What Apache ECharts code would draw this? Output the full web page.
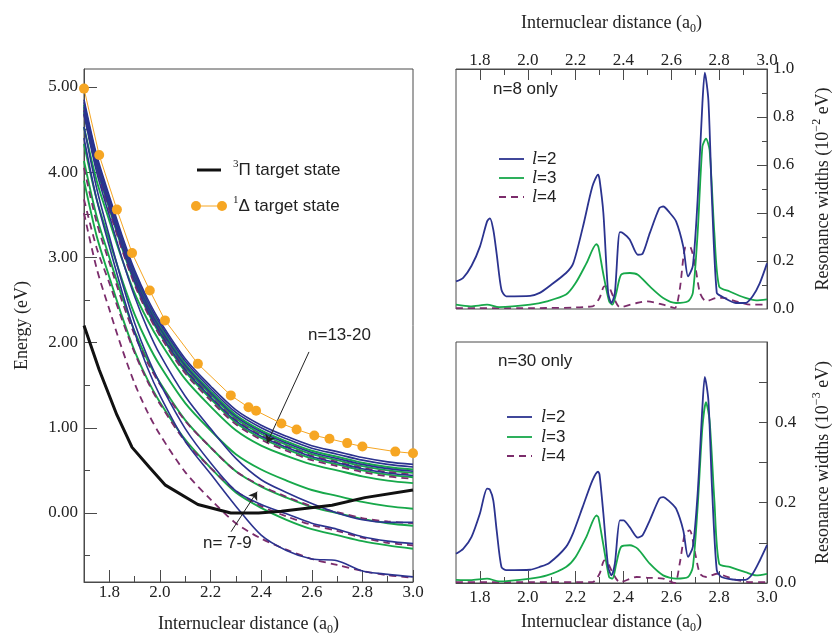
<!DOCTYPE html>
<html>
<head>
<meta charset="utf-8">
<script src="https://cdn.jsdelivr.net/npm/echarts@6/dist/echarts.min.js"></script>
<style>
html, body { margin: 0; background: #fff; }
#main { width: 834px; height: 633px; }
</style>
</head>
<body>
<div id="main"></div>
<script>
// ---- left panel: potential curves (eV) ----
var xs = [1.7, 1.75, 1.8, 1.85, 1.9, 1.95, 2.0, 2.1, 2.2, 2.3, 2.4, 2.5, 2.6, 2.7, 2.8, 2.9, 3.0];

// n=13-20 bundle
var hiBlue1 = [4.85, 4.20, 3.72, 3.26, 2.85, 2.52, 2.25, 1.81, 1.49, 1.21, 1.03, 0.90, 0.79, 0.72, 0.65, 0.60, 0.57];
var hiBlue2 = [4.82, 4.17, 3.69, 3.23, 2.82, 2.49, 2.22, 1.78, 1.46, 1.18, 1.00, 0.87, 0.76, 0.69, 0.62, 0.57, 0.54];
var hiBlue3 = [4.77, 4.12, 3.64, 3.18, 2.77, 2.44, 2.17, 1.73, 1.41, 1.13, 0.95, 0.82, 0.71, 0.64, 0.57, 0.52, 0.49];
var hiBlue4 = [4.72, 4.07, 3.59, 3.13, 2.72, 2.39, 2.12, 1.68, 1.36, 1.08, 0.90, 0.77, 0.66, 0.59, 0.52, 0.47, 0.44];
var hiGreen1 = [4.79, 4.14, 3.66, 3.20, 2.79, 2.46, 2.19, 1.75, 1.43, 1.15, 0.97, 0.84, 0.73, 0.66, 0.59, 0.54, 0.51];
var hiGreen2 = [4.75, 4.10, 3.62, 3.16, 2.75, 2.42, 2.15, 1.71, 1.39, 1.11, 0.93, 0.80, 0.69, 0.62, 0.55, 0.50, 0.47];
var hiGreen3 = [4.70, 4.05, 3.57, 3.11, 2.70, 2.37, 2.10, 1.66, 1.34, 1.06, 0.88, 0.75, 0.64, 0.57, 0.50, 0.45, 0.42];
var hiDash1 = [4.73, 4.08, 3.60, 3.14, 2.73, 2.40, 2.13, 1.69, 1.37, 1.09, 0.91, 0.78, 0.67, 0.60, 0.53, 0.48, 0.45];
var hiDash2 = [4.68, 4.03, 3.55, 3.09, 2.68, 2.35, 2.08, 1.64, 1.32, 1.04, 0.86, 0.73, 0.62, 0.55, 0.48, 0.43, 0.40];

// lower states
var green10 = [4.53, 3.90, 3.43, 2.98, 2.58, 2.27, 2.01, 1.57, 1.25, 0.97, 0.79, 0.67, 0.57, 0.50, 0.43, 0.38, 0.35];
var green9 = [4.33, 3.68, 3.20, 2.74, 2.33, 2.00, 1.73, 1.29, 0.97, 0.69, 0.51, 0.38, 0.27, 0.20, 0.13, 0.08, 0.05];
var green8 = [4.13, 3.48, 3.00, 2.54, 2.13, 1.80, 1.53, 1.09, 0.77, 0.49, 0.31, 0.18, 0.07, 0.00, -0.07, -0.12, -0.15];
var green7 = [3.90, 3.25, 2.77, 2.31, 1.90, 1.57, 1.30, 0.86, 0.53, 0.24, 0.06, -0.08, -0.19, -0.26, -0.33, -0.38, -0.42];
var dash9 = [4.05, 3.41, 2.94, 2.49, 2.09, 1.77, 1.51, 1.08, 0.77, 0.49, 0.32, 0.19, 0.08, 0.01, -0.06, -0.10, -0.12];
var dash8 = [3.68, 3.11, 2.70, 2.27, 1.88, 1.55, 1.28, 0.84, 0.53, 0.26, 0.08, -0.04, -0.14, -0.21, -0.29, -0.35, -0.38];
var dash7 = [3.52, 2.87, 2.39, 1.93, 1.52, 1.19, 0.92, 0.48, 0.16, -0.12, -0.30, -0.43, -0.54, -0.61, -0.68, -0.73, -0.76];
var blue9 = [4.68, 4.00, 3.49, 2.99, 2.54, 2.17, 1.86, 1.37, 0.99, 0.64, 0.39, 0.24, 0.11, 0.00, -0.08, -0.11, -0.11];
var blue8 = [4.53, 3.81, 3.25, 2.71, 2.23, 1.84, 1.52, 0.99, 0.59, 0.26, 0.10, -0.01, -0.12, -0.19, -0.28, -0.33, -0.36];
var blue7 = [4.40, 3.68, 3.13, 2.60, 2.12, 1.71, 1.38, 0.84, 0.46, 0.08, -0.26, -0.44, -0.54, -0.56, -0.68, -0.72, -0.75];

// target states
var deltaX = [1.70, 1.76, 1.83, 1.89, 1.96, 2.02, 2.15, 2.28, 2.35, 2.38, 2.48, 2.54, 2.61, 2.67, 2.74, 2.80, 2.93, 3.00];
var deltaE = [4.98, 4.20, 3.56, 3.05, 2.61, 2.26, 1.75, 1.38, 1.24, 1.20, 1.05, 0.98, 0.91, 0.87, 0.82, 0.78, 0.72, 0.70];
var piX = [1.70, 1.76, 1.83, 1.89, 1.96, 2.02, 2.15, 2.28, 2.39, 2.48, 2.68, 2.81, 3.00];
var piE = [2.20, 1.68, 1.15, 0.77, 0.53, 0.33, 0.10, 0.00, 0.00, 0.02, 0.09, 0.18, 0.27];

// annotation arrows [from, to]
var arrow1320 = [[2.589, 1.89], [2.423, 0.82]];
var arrow79 = [[2.281, -0.22], [2.384, 0.25]];

// ---- right panels: resonance widths ----
var rX2 = [1.70, 1.73, 1.765, 1.80, 1.83, 1.842, 1.856, 1.87, 1.89, 1.91, 2.01, 2.05, 2.09, 2.16, 2.19, 2.23, 2.27, 2.294, 2.30, 2.316, 2.336, 2.35, 2.364, 2.385, 2.40, 2.426, 2.46, 2.48, 2.51, 2.55, 2.566, 2.594, 2.62, 2.65, 2.67, 2.69, 2.71, 2.73, 2.74, 2.755, 2.77, 2.79, 2.81, 2.87, 2.91, 2.94, 2.97, 3.0];
var w8l2 = [0.115, 0.13, 0.18, 0.26, 0.365, 0.378, 0.33, 0.23, 0.08, 0.053, 0.055, 0.067, 0.095, 0.15, 0.19, 0.34, 0.51, 0.56, 0.54, 0.40, 0.067, 0.025, 0.067, 0.32, 0.315, 0.29, 0.226, 0.23, 0.316, 0.42, 0.427, 0.40, 0.365, 0.26, 0.136, 0.18, 0.455, 0.857, 0.985, 0.87, 0.455, 0.067, 0.053, 0.025, 0.025, 0.053, 0.108, 0.19];
var w30l2 = [0.073, 0.085, 0.115, 0.173, 0.235, 0.232, 0.205, 0.131, 0.04, 0.032, 0.033, 0.04, 0.05, 0.09, 0.125, 0.19, 0.255, 0.277, 0.27, 0.173, 0.04, 0.019, 0.048, 0.156, 0.156, 0.139, 0.113, 0.119, 0.156, 0.21, 0.214, 0.202, 0.185, 0.131, 0.065, 0.09, 0.222, 0.438, 0.513, 0.455, 0.239, 0.032, 0.015, 0.008, 0.008, 0.023, 0.056, 0.094];
var rX3 = [1.70, 1.76, 1.83, 1.88, 2.01, 2.08, 2.16, 2.20, 2.245, 2.287, 2.295, 2.315, 2.34, 2.354, 2.37, 2.39, 2.427, 2.46, 2.51, 2.566, 2.62, 2.67, 2.69, 2.71, 2.73, 2.745, 2.76, 2.78, 2.80, 2.844, 2.91, 2.955, 3.0];
var w8l3 = [0.018, 0.011, 0.018, 0.008, 0.018, 0.032, 0.06, 0.108, 0.19, 0.27, 0.26, 0.15, 0.032, 0.018, 0.067, 0.143, 0.15, 0.143, 0.094, 0.046, 0.025, 0.032, 0.067, 0.316, 0.677, 0.71, 0.663, 0.316, 0.094, 0.073, 0.046, 0.036, 0.04];
var w30l3 = [0.008, 0.007, 0.011, 0.004, 0.011, 0.019, 0.04, 0.065, 0.115, 0.168, 0.164, 0.098, 0.015, 0.011, 0.048, 0.09, 0.094, 0.085, 0.048, 0.019, 0.011, 0.015, 0.04, 0.189, 0.388, 0.45, 0.405, 0.206, 0.048, 0.04, 0.027, 0.019, 0.023];
var rX4 = [1.70, 2.01, 2.27, 2.30, 2.32, 2.336, 2.357, 2.385, 2.455, 2.50, 2.566, 2.614, 2.635, 2.657, 2.677, 2.70, 2.72, 2.746, 2.79, 2.816, 2.87, 2.93, 3.0];
var w8l4 = [0.004, 0.004, 0.011, 0.046, 0.094, 0.094, 0.053, 0.008, 0.025, 0.032, 0.018, 0.004, 0.08, 0.254, 0.26, 0.178, 0.067, 0.032, 0.046, 0.046, 0.032, 0.018, 0.018];
var w30l4 = [0.002, 0.002, 0.002, 0.023, 0.056, 0.048, 0.023, 0.002, 0.015, 0.013, 0.011, 0.0, 0.048, 0.123, 0.131, 0.073, 0.023, 0.015, 0.023, 0.019, 0.008, 0.002, 0.002];

// tick positions
var xMajor = [1.8, 2.0, 2.2, 2.4, 2.6, 2.8, 3.0];
var xMinor = [1.9, 2.1, 2.3, 2.5, 2.7, 2.9];
var eMajor = [0, 1, 2, 3, 4, 5];
var eMinor = [-0.5, 0.5, 1.5, 2.5, 3.5, 4.5];
var w8Labels = [0, 0.2, 0.4, 0.6, 0.8, 1.0];
var w8Minor = [0.1, 0.3, 0.5, 0.7, 0.9];
var w30Labels = [0, 0.2, 0.4];
var w30Ticks = [0.1, 0.2, 0.3, 0.4, 0.5];

var SERIF = '"Liberation Serif", "DejaVu Serif", serif';
var SANS = '"Liberation Sans", Arial, sans-serif';
var BLUE = '#2b338f', GREEN = '#17a84a', PURPLE = '#7b2c6b', ORANGE = '#f6a623';
var FRAME = '#4a4a4a', TXT = '#222';

function pairs(xArr, yArr) {
    return xArr.map(function (x, i) { return [x, yArr[i]]; });
}

var nameStyle = {
    fontFamily: SERIF, fontSize: 18, color: TXT, lineHeight: 24,
    rich: {
        sub: { fontFamily: SERIF, fontSize: 12, color: TXT, lineHeight: 10, verticalAlign: 'bottom' },
        sup: { fontFamily: SERIF, fontSize: 12, color: TXT, lineHeight: 10, verticalAlign: 'top' }
    }
};
var labelStyle = { fontFamily: SERIF, fontSize: 17, color: TXT };

function axisMain(grid, pos, min, max, ticks, len, labels, fmt, margin, name, gap, centerEnds) {
    var label = Object.assign({
        show: true, customValues: labels, formatter: fmt, margin: margin, hideOverlap: false
    }, labelStyle);
    if (centerEnds) {
        label.alignMinLabel = 'center';
        label.alignMaxLabel = 'center';
    }
    return {
        type: 'value', gridIndex: grid, position: pos, min: min, max: max,
        splitLine: { show: false },
        axisLine: { show: true, onZero: false, lineStyle: { color: FRAME, width: 1 } },
        axisTick: { show: true, inside: true, length: len, customValues: ticks, lineStyle: { color: FRAME } },
        axisLabel: label,
        name: name, nameLocation: 'middle', nameGap: gap, nameTextStyle: nameStyle
    };
}
function minorAxis(grid, pos, min, max, ticks, len) {
    return {
        type: 'value', gridIndex: grid, position: pos, min: min, max: max,
        splitLine: { show: false },
        axisLine: { show: false, onZero: false },
        axisTick: { show: true, inside: true, length: len, customValues: ticks, lineStyle: { color: FRAME } },
        axisLabel: { show: false }
    };
}
function f1(v) { return v.toFixed(1); }
function f2(v) { return v.toFixed(2); }

var series = [];
function curve(data, color, dashed, width, z) {
    series.push({
        type: 'line', xAxisIndex: 0, yAxisIndex: 0, data: pairs(xs, data),
        symbol: 'none', smooth: 0.3, silent: true, z: z,
        lineStyle: { color: color, width: width, type: dashed ? [7, 5] : 'solid' }
    });
}
[green10, green9, green8, green7, hiGreen1, hiGreen2, hiGreen3].forEach(function (d) { curve(d, GREEN, false, 1.9, 2); });
[dash9, dash8, dash7, hiDash1, hiDash2].forEach(function (d) { curve(d, PURPLE, true, 1.8, 3); });
[blue9, blue8, blue7, hiBlue1, hiBlue2, hiBlue3, hiBlue4].forEach(function (d) { curve(d, BLUE, false, 1.6, 4); });

series.push({
    type: 'line', xAxisIndex: 0, yAxisIndex: 0, data: pairs(piX, piE),
    symbol: 'none', smooth: false, silent: true, z: 5,
    lineStyle: { color: '#111', width: 3 },
    markLine: {
        silent: true, symbol: ['none', 'arrow'], symbolSize: 8,
        lineStyle: { color: '#222', width: 1, type: 'solid' },
        label: { show: false },
        data: [
            [{ coord: arrow1320[0] }, { coord: arrow1320[1] }],
            [{ coord: arrow79[0] }, { coord: arrow79[1] }]
        ]
    }
});
series.push({
    type: 'line', xAxisIndex: 0, yAxisIndex: 0, data: pairs(deltaX, deltaE),
    symbol: 'circle', symbolSize: 10, showSymbol: true, smooth: false, silent: true, z: 6,
    clip: false,
    itemStyle: { color: ORANGE },
    lineStyle: { color: ORANGE, width: 1 }
});

function widths(xArr, yArr, xi, color, dashed) {
    series.push({
        type: 'line', xAxisIndex: xi, yAxisIndex: xi, data: pairs(xArr, yArr),
        symbol: 'none', smooth: 0.25, silent: true,
        lineStyle: { color: color, width: 1.8, type: dashed ? [7, 5] : 'solid' }
    });
}
widths(rX4, w8l4, 2, PURPLE, true);
widths(rX3, w8l3, 2, GREEN, false);
widths(rX2, w8l2, 2, BLUE, false);
widths(rX4, w30l4, 4, PURPLE, true);
widths(rX3, w30l3, 4, GREEN, false);
widths(rX2, w30l2, 4, BLUE, false);

var legendRich = {
    s: { fontFamily: SERIF, fontSize: 11, verticalAlign: 'top', lineHeight: 10, fill: TXT },
    n: { fontFamily: SANS, fontSize: 17, lineHeight: 22, fill: TXT },
    i: { fontFamily: SERIF, fontSize: 18, fontStyle: 'italic', lineHeight: 22, fill: TXT }
};
function txt(x, y, text) {
    return { type: 'text', x: x, y: y, z: 10, style: { text: text, fill: TXT, font: '17px ' + SANS, verticalAlign: 'middle', rich: legendRich } };
}
function seg(x1, x2, y, color, w, dashed) {
    return { type: 'line', z: 10, shape: { x1: x1, y1: y, x2: x2, y2: y }, style: { stroke: color, lineWidth: w, lineDash: dashed ? [7, 5] : null } };
}

var graphics = [
    seg(197, 221, 170, '#111', 3),
    txt(233, 170, '{s|3}{n|Π target state}'),
    seg(196, 222, 206, ORANGE, 1),
    { type: 'circle', z: 10, shape: { cx: 196, cy: 206, r: 5 }, style: { fill: ORANGE } },
    { type: 'circle', z: 10, shape: { cx: 222, cy: 206, r: 5 }, style: { fill: ORANGE } },
    txt(233, 206, '{s|1}{n|Δ target state}'),
    txt(308, 335, '{n|n=13-20}'),
    txt(203, 543, '{n|n= 7-9}'),
    txt(493, 89, '{n|n=8 only}'),
    seg(499, 524, 159, BLUE, 1.8),
    seg(499, 524, 178, GREEN, 1.8),
    seg(499, 524, 197, PURPLE, 1.8, true),
    txt(532, 159, '{i|l}{n|=2}'),
    txt(532, 178, '{i|l}{n|=3}'),
    txt(532, 197, '{i|l}{n|=4}'),
    txt(498, 361, '{n|n=30 only}'),
    seg(507, 532, 417, BLUE, 1.8),
    seg(507, 532, 437, GREEN, 1.8),
    seg(507, 532, 456, PURPLE, 1.8, true),
    txt(541, 417, '{i|l}{n|=2}'),
    txt(541, 437, '{i|l}{n|=3}'),
    txt(541, 456, '{i|l}{n|=4}')
];

var xName = 'Internuclear distance (a{sub|0})';

var option = {
    animation: false,
    backgroundColor: '#fff',
    grid: [
        { left: 84, top: 69, width: 329, height: 513, show: true, borderColor: FRAME, borderWidth: 1, outerBoundsMode: 'none' },
        { left: 456, top: 69, width: 311, height: 240, show: true, borderColor: FRAME, borderWidth: 1, outerBoundsMode: 'none' },
        { left: 456, top: 342, width: 311, height: 241, show: true, borderColor: FRAME, borderWidth: 1, outerBoundsMode: 'none' }
    ],
    xAxis: [
        axisMain(0, 'bottom', 1.7, 3.0, xMajor, 12, xMajor, f1, 2, xName, 30, true),
        minorAxis(0, 'bottom', 1.7, 3.0, xMinor, 6),
        axisMain(1, 'top', 1.7, 3.0, xMajor, 11, xMajor, f1, 0, xName, 34, true),
        minorAxis(1, 'top', 1.7, 3.0, xMinor, 6),
        axisMain(2, 'bottom', 1.7, 3.0, xMajor, 12, xMajor, f1, 6, xName, 27, true),
        minorAxis(2, 'bottom', 1.7, 3.0, xMinor, 6)
    ],
    yAxis: [
        axisMain(0, 'left', -0.81, 5.21, eMajor, 13, eMajor, f2, 6, 'Energy (eV)', 50),
        minorAxis(0, 'left', -0.81, 5.21, eMinor, 6),
        axisMain(1, 'right', 0, 1.0, [0.2, 0.4, 0.6, 0.8], 10, w8Labels, f1, 6, 'Resonance widths (10{sup|−2} eV)', 44),
        minorAxis(1, 'right', 0, 1.0, w8Minor, 5),
        axisMain(2, 'right', 0, 0.6, w30Ticks, 8, w30Labels, f1, 8, 'Resonance widths (10{sup|−3} eV)', 44)
    ],
    graphic: graphics,
    series: series
};
option.yAxis[2].nameRotate = 90;
option.yAxis[4].nameRotate = 90;

var chart = echarts.init(document.getElementById('main'));
chart.setOption(option);
</script>
</body>
</html>
